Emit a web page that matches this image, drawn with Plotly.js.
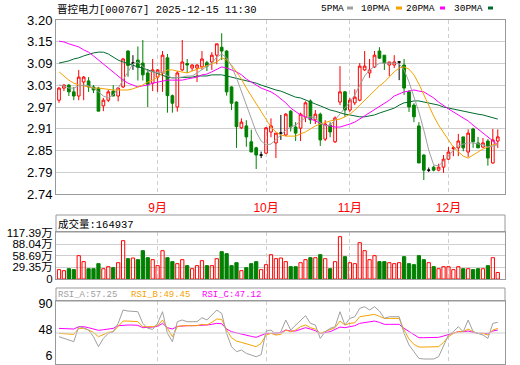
<!DOCTYPE html>
<html><head><meta charset="utf-8">
<script src="https://cdn.plot.ly/plotly-3.0.1.min.js"></script>
<style>html,body{margin:0;padding:0;background:#fff;}#c{width:520px;height:365px;}</style>
</head><body><div id="c"></div>
<script>
// ---------- data ----------
const titleText = '晋控电力[000767] 2025-12-15 11:30';
const monthPos = [20, 42, 59, 79];
const monthLabels = ['9月', '10月', '11月', '12月'];
const priceTickVals = [2.74, 2.7975, 2.855, 2.9125, 2.97, 3.0275, 3.085, 3.1425, 3.20];
const priceTickText = ['2.74', '2.79', '2.85', '2.91', '2.97', '3.03', '3.09', '3.15', '3.20'];
const volTickVals = [0, 29.35, 58.69, 88.04, 117.39];
const volTickText = ['0', '29.35万', '58.69万', '88.04万', '117.39万'];
const rsiTickVals = [6, 48, 90];
const rsiTickText = ['6', '48', '90'];
const maNames = ['5PMA', '10PMA', '20PMA', '30PMA'];
const volLabel = '成交量:164937';
const rsiLabels = ['RSI_A:57.25', 'RSI_B:49.45', 'RSI_C:47.12'];

const open = [2.988,3.020,3.028,3.010,2.999,3.036,3.039,3.023,3.020,2.973,
2.988,3.012,2.999,3.023,3.118,3.086,3.094,3.086,3.060,3.033,
3.049,3.060,3.100,3.000,2.970,3.068,3.085,3.073,3.073,3.076,
3.087,3.089,3.107,3.128,3.118,3.023,2.983,2.915,2.920,2.878,
2.862,2.843,2.848,2.904,2.875,2.901,2.896,2.959,2.917,2.914,
2.943,2.986,2.936,2.951,2.885,2.922,2.878,2.983,3.010,2.962,
2.981,2.988,3.068,3.060,3.076,3.118,3.107,3.081,3.081,3.089,
3.081,3.010,2.975,2.920,2.843,2.803,2.811,2.803,2.811,2.832,
2.860,2.862,2.891,2.851,2.912,2.875,2.864,2.880,2.822,2.880];
const high = [3.023,3.030,3.030,3.023,3.068,3.052,3.049,3.028,3.023,2.994,
3.015,3.028,3.023,3.100,3.120,3.107,3.130,3.147,3.070,3.097,
3.070,3.118,3.110,3.003,3.065,3.147,3.097,3.083,3.083,3.118,
3.092,3.115,3.137,3.165,3.120,3.025,2.985,2.940,2.935,2.910,
2.865,2.852,2.917,2.940,2.901,2.949,2.954,2.962,2.930,2.955,
2.985,2.990,2.962,2.955,2.935,2.930,2.945,3.078,3.012,2.994,
3.017,3.086,3.118,3.097,3.118,3.128,3.107,3.089,3.107,3.091,
3.097,3.015,2.980,2.930,2.845,2.810,2.815,2.820,2.843,2.864,
2.867,2.899,2.891,2.911,2.915,2.891,2.888,2.885,2.912,2.911];
const low = [2.981,3.012,2.999,2.988,2.988,2.988,3.010,3.007,2.959,2.959,
2.983,2.999,2.985,3.020,3.050,3.068,3.040,3.040,2.970,3.012,
3.010,3.010,2.955,2.955,2.958,3.065,3.060,3.065,3.036,3.068,
3.065,3.068,3.083,3.094,3.000,2.962,2.862,2.912,2.865,2.851,
2.806,2.835,2.846,2.890,2.835,2.883,2.893,2.905,2.880,2.880,
2.930,2.925,2.925,2.867,2.880,2.890,2.875,2.975,2.944,2.957,
2.975,2.985,3.065,3.047,3.073,3.097,3.068,3.052,3.073,3.041,
3.002,2.957,2.930,2.822,2.777,2.798,2.800,2.800,2.796,2.830,
2.840,2.840,2.853,2.838,2.862,2.862,2.862,2.815,2.820,2.862];
const close = [3.020,3.028,3.010,2.999,3.049,3.049,3.023,3.015,2.959,2.988,
3.010,2.999,3.020,3.097,3.080,3.086,3.075,3.055,3.030,3.068,
3.068,3.107,3.000,2.980,3.060,3.089,3.081,3.081,3.081,3.097,
3.078,3.107,3.137,3.118,3.010,2.980,2.918,2.930,2.891,2.851,
2.843,2.843,2.915,2.920,2.901,2.901,2.951,2.917,2.901,2.951,
2.981,2.936,2.951,2.883,2.925,2.904,2.941,3.010,2.962,2.988,
2.996,3.078,3.078,3.068,3.107,3.099,3.086,3.089,3.089,3.089,
3.020,2.970,2.944,2.822,2.803,2.803,2.803,2.811,2.832,2.851,
2.862,2.880,2.862,2.901,2.878,2.862,2.875,2.835,2.883,2.891];
const volume = [23.6,21.0,26.0,23.6,58.9,43.8,26.0,26.0,38.7,26.0,
31.1,28.6,41.2,96.8,51.3,53.0,48.8,71.5,53.8,48.8,
33.7,71.5,53.8,43.8,38.7,48.8,33.7,26.0,33.7,46.3,
33.7,33.7,51.3,69.0,64.0,33.7,41.2,21.0,28.6,38.7,
43.8,23.6,36.2,61.4,51.3,53.0,43.8,31.1,31.1,41.2,
48.8,53.8,53.8,61.4,51.3,26.0,43.8,106.9,56.4,41.2,
38.7,91.7,71.5,48.8,58.9,43.8,43.8,41.2,38.7,41.2,
56.4,38.7,36.2,58.9,48.8,41.2,31.1,26.0,31.1,31.1,
23.6,31.1,26.0,26.0,23.6,26.0,26.0,33.7,53.8,16.5];
const ma5 = [3.028,3.026,3.020,3.020,3.026,3.028,3.026,3.020,3.010,2.999,
2.994,3.002,3.020,3.041,3.063,3.084,3.089,3.078,3.065,3.063,
3.060,3.063,3.052,3.047,3.047,3.049,3.052,3.052,3.060,3.068,
3.076,3.086,3.102,3.110,3.100,3.078,3.047,3.010,2.973,2.936,
2.904,2.880,2.870,2.872,2.883,2.896,2.909,2.917,2.922,2.933,
2.941,2.944,2.941,2.928,2.920,2.922,2.936,2.951,2.967,2.983,
3.002,3.026,3.052,3.068,3.078,3.086,3.086,3.086,3.086,3.084,
3.068,3.036,2.999,2.957,2.909,2.856,2.817,2.814,2.827,2.840,
2.856,2.867,2.872,2.875,2.875,2.872,2.870,2.864,2.867,2.870];
const ma10 = [3.063,3.052,3.041,3.033,3.028,3.026,3.023,3.020,3.020,3.018,
3.018,3.015,3.015,3.015,3.015,3.018,3.023,3.028,3.036,3.041,
3.049,3.060,3.068,3.068,3.065,3.063,3.060,3.065,3.070,3.073,
3.078,3.084,3.089,3.100,3.094,3.081,3.063,3.044,3.020,2.999,
2.978,2.957,2.936,2.917,2.904,2.896,2.893,2.893,2.893,2.899,
2.904,2.912,2.920,2.925,2.930,2.933,2.936,2.938,2.944,2.951,
2.962,2.975,2.988,3.002,3.015,3.026,3.036,3.049,3.063,3.073,
3.076,3.070,3.055,3.031,3.002,2.973,2.946,2.922,2.901,2.883,
2.864,2.851,2.840,2.835,2.843,2.851,2.859,2.864,2.870,2.872];
const ma20 = [3.144,3.142,3.137,3.134,3.129,3.121,3.115,3.105,3.094,3.084,
3.073,3.063,3.052,3.041,3.033,3.028,3.023,3.026,3.028,3.033,
3.036,3.039,3.041,3.041,3.041,3.041,3.044,3.047,3.049,3.055,
3.057,3.063,3.070,3.076,3.073,3.068,3.063,3.055,3.044,3.036,
3.028,3.020,3.015,3.010,3.002,2.991,2.981,2.967,2.957,2.949,
2.944,2.938,2.933,2.928,2.922,2.920,2.917,2.917,2.920,2.925,
2.930,2.938,2.946,2.954,2.962,2.970,2.978,2.988,2.999,3.004,
3.010,3.012,3.015,3.012,3.010,3.002,2.994,2.983,2.973,2.965,
2.957,2.949,2.941,2.933,2.922,2.912,2.901,2.891,2.880,2.870];
const ma30 = [3.086,3.089,3.092,3.097,3.100,3.105,3.110,3.113,3.115,3.115,
3.110,3.102,3.094,3.089,3.084,3.081,3.076,3.073,3.068,3.065,
3.060,3.055,3.049,3.047,3.047,3.047,3.049,3.049,3.052,3.052,
3.052,3.055,3.055,3.055,3.052,3.049,3.047,3.044,3.041,3.036,
3.033,3.028,3.023,3.020,3.015,3.012,3.007,3.002,2.996,2.994,
2.988,2.983,2.978,2.973,2.967,2.962,2.959,2.954,2.951,2.949,
2.946,2.944,2.944,2.946,2.949,2.954,2.959,2.962,2.967,2.975,
2.981,2.983,2.986,2.986,2.983,2.981,2.978,2.975,2.970,2.967,
2.965,2.962,2.959,2.957,2.954,2.951,2.949,2.946,2.941,2.938];
const rsiA = [42,39.3,36.6,34,58.2,56.6,52.8,42,25.9,39.3,
47.4,50.1,63.6,85.1,83.5,83.5,82.4,63.6,55.5,53.9,
63.6,82.4,47.4,34,66.3,69,66.3,66.3,66.3,72.7,
69,77,85.1,79.7,47.4,25.9,17.8,20.5,15.1,12.4,
9.7,13,51,52.8,45.8,50.1,69,52.8,60.9,69,
76,63.6,60.9,39.3,50.1,55.5,58.2,82.4,60.9,71.6,
74.3,87.8,90.5,85.1,90.5,83.5,71.6,74.3,74.3,74.3,
47.4,28.6,17.8,7,6,6,6,9.7,28.6,44.7,
50.1,58.2,50.1,69,50.1,47.4,44.7,39.3,63.6,65.2];
const rsiB = [47.4,46.9,46.3,45.8,55.5,55.5,52.8,49,42,45.8,
49,50.1,58.2,67.3,67.3,67.3,66.3,58.2,58.2,58.2,
59.8,69,55.5,42,58.2,59.8,59.8,59.8,59.8,62,
60.9,65.2,70.6,70,52.8,40.4,35,32.9,30.7,28.6,
25.9,31.3,44.7,47.4,44.7,45.8,52.8,50.1,52.8,58.2,
60.9,56.6,54.4,47.4,50.1,52.8,56.6,67.3,60.9,63.6,
64.6,74.3,75.4,76,78.1,74.9,71.6,71.6,71.6,71.6,
52.8,38.3,29.6,25.3,25.3,25.3,25.3,25.9,32.9,42,
47.4,50.1,50.1,54.4,50.1,47.4,47.4,44.7,52.8,55.5];
const rsiC = [55.5,55.5,55,54.4,58.2,58.2,56.6,54.4,52.3,53.3,
54.4,55.5,59.8,60.9,60.9,60.9,60.3,56.6,56.6,57.6,
58.7,63.6,56.6,54.4,58.7,59.8,59.8,59.8,59.8,60.3,
60.9,62,63.6,63,54.4,50.1,48,46.9,44.7,42.6,
41,44.7,47.4,47.4,47.4,48.5,52.8,51.2,51.2,54.4,
56.6,54.4,51.7,47.4,49,50.1,53.9,57.6,56.6,58.2,
59.8,63.6,64.6,65.2,67.3,65.2,62,62,62,62,
55.5,50.1,44.7,40.4,40.4,40.4,40.4,41,43.1,45.8,
48.5,50.1,50.1,51.2,49,47.4,47.4,46.9,51.2,52.8];

// ---------- build ----------
const idx = open.map((_, i) => i);
const isDoji = idx.map(i => open[i] === close[i]);
const pick = (arr, want) => idx.filter(i => isDoji[i] === want).map(i => arr[i]);
const up = idx.map(i => close[i] >= open[i]);

const W = 520, H = 365;
const PL = 56, PR = 505;
const px = v => v / W, py = v => 1 - v / H;
const xr = [-0.61, 90.47];

const C = {ma5: '#a0a0a0', ma10: '#f5a300', ma20: '#ff00ff', ma30: '#006c2e', red: '#ff0000', green: '#008000', frame: '#999999', grid: '#cfcfcf'};
const maColors = [C.ma5, C.ma10, C.ma20, C.ma30];

const traces = [];
[ma30, ma20, ma10, ma5].forEach((arr, k) => {
  traces.push({type: 'scatter', mode: 'lines', x: idx, y: arr, xaxis: 'x', yaxis: 'y',
    line: {color: [C.ma30, C.ma20, C.ma10, C.ma5][k], width: 1}, hoverinfo: 'skip'});
});
traces.push({type: 'candlestick', x: pick(idx, false), open: pick(open, false), high: pick(high, false),
  low: pick(low, false), close: pick(close, false), xaxis: 'x', yaxis: 'y', whiskerwidth: 0,
  increasing: {line: {color: C.red, width: 1}, fillcolor: 'rgba(255,255,255,0)'},
  decreasing: {line: {color: C.green, width: 1}, fillcolor: C.green}, hoverinfo: 'skip'});
traces.push({type: 'candlestick', x: pick(idx, true), open: pick(open, true), high: pick(high, true),
  low: pick(low, true), close: pick(close, true), xaxis: 'x', yaxis: 'y', whiskerwidth: 0,
  increasing: {line: {color: '#000', width: 1}, fillcolor: '#000'},
  decreasing: {line: {color: '#000', width: 1}, fillcolor: '#000'}, hoverinfo: 'skip'});
traces.push({type: 'bar', x: idx, y: volume, xaxis: 'x2', yaxis: 'y2', width: 0.66,
  marker: {color: up.map(u => u ? 'rgba(255,255,255,0)' : C.green),
           line: {color: up.map(u => u ? C.red : C.green), width: 1}}, hoverinfo: 'skip'});
[[rsiC, C.ma20], [rsiB, C.ma10], [rsiA, C.ma5]].forEach(([arr, col]) => {
  traces.push({type: 'scatter', mode: 'lines', x: idx, y: arr, xaxis: 'x3', yaxis: 'y3',
    line: {color: col, width: 1}, hoverinfo: 'skip'});
});

const xBase = {range: xr, domain: [px(PL), px(PR)], showgrid: true, gridcolor: C.grid, griddash: '4px,3px',
  tickvals: monthPos, zeroline: false, showline: true, mirror: true, linecolor: C.frame, linewidth: 1,
  ticks: '', fixedrange: true};
const yFont = {family: 'Liberation Sans, Arial, Noto Sans CJK SC', size: 13, color: '#000'};

const mono = 'Liberation Mono, Noto Sans CJK SC';
const annotations = [
  {xref: 'paper', yref: 'paper', x: px(55), y: py(9), xanchor: 'left', yanchor: 'middle', showarrow: false,
   text: titleText, font: {family: mono, size: 10.5, color: '#000'}},
  {xref: 'paper', yref: 'paper', x: px(56), y: py(224), xanchor: 'left', yanchor: 'middle', showarrow: false,
   text: volLabel, font: {family: mono, size: 10.5, color: '#000'}}
];
const legEnd = [346, 392, 437, 485];
maNames.forEach((n, k) => annotations.push({xref: 'paper', yref: 'paper', x: px(legEnd[k]), y: py(8),
  xanchor: 'right', yanchor: 'middle', showarrow: false, text: n, font: {family: mono, size: 9.5, color: '#000'}}));
const rsiStart = [56, 129, 200];
const rsiCols = [C.ma5, C.ma10, C.ma20];
rsiLabels.forEach((t, k) => annotations.push({xref: 'paper', yref: 'paper', x: px(rsiStart[k]), y: py(295),
  xanchor: 'left', yanchor: 'middle', showarrow: false, text: t, font: {family: mono, size: 9, color: rsiCols[k]}}));

const shapes = [
  {type: 'rect', xref: 'paper', yref: 'paper', x0: px(PL), x1: px(PR), y0: py(232), y1: py(215), line: {color: C.frame, width: 1}},
  {type: 'rect', xref: 'paper', yref: 'paper', x0: px(PL), x1: px(PR), y0: py(301), y1: py(288), line: {color: C.frame, width: 1}},
  {type: 'line', xref: 'paper', yref: 'y3', x0: px(PL), x1: px(PR), y0: 48, y1: 48, line: {color: C.grid, width: 1}}
];
const swX = [[347, 353], [396, 402], [440, 445], [488, 493]];
swX.forEach((s, k) => shapes.push({type: 'rect', xref: 'paper', yref: 'paper', x0: px(s[0]), x1: px(s[1]),
  y0: py(9.5), y1: py(6.5), fillcolor: maColors[k], line: {width: 0}}));

const layout = {
  width: W, height: H, margin: {l: 0, r: 0, t: 0, b: 0}, paper_bgcolor: '#fff', plot_bgcolor: '#fff',
  showlegend: false, hovermode: false, boxgap: 0.22, boxmode: 'overlay', bargap: 0,
  xaxis: Object.assign({}, xBase, {anchor: 'y', ticktext: monthLabels, showticklabels: true, ticklabelstandoff: 3,
    tickfont: {family: 'Liberation Sans, Noto Sans CJK SC', size: 12, color: '#ff0000'}, rangeslider: {visible: false}}),
  yaxis: {anchor: 'x', domain: [py(194), py(20)], range: [2.74, 3.20], tickvals: priceTickVals, ticktext: priceTickText,
    showgrid: true, gridcolor: C.grid, zeroline: false, showline: true, mirror: true, linecolor: C.frame, ticks: '',
    tickfont: yFont, fixedrange: true, ticklabeloverflow: 'allow'},
  xaxis2: Object.assign({}, xBase, {anchor: 'y2', showticklabels: false}),
  yaxis2: {anchor: 'x2', domain: [py(279), py(232)], range: [0, 118.65], tickvals: volTickVals, ticktext: volTickText,
    showgrid: true, gridcolor: C.grid, zeroline: false, showline: true, mirror: true, linecolor: C.frame, ticks: '',
    tickfont: {family: 'Liberation Sans, Arial, Noto Sans CJK SC', size: 11.5, color: '#000'}, fixedrange: true,
    ticklabeloverflow: 'allow'},
  xaxis3: Object.assign({}, xBase, {anchor: 'y3', showticklabels: false}),
  yaxis3: {anchor: 'x3', domain: [py(364), py(301)], range: [-2.07, 99.7], tickvals: rsiTickVals, ticktext: rsiTickText,
    showgrid: false, zeroline: false, showline: true, mirror: true, linecolor: C.frame, ticks: '',
    tickfont: {family: 'Liberation Sans, Arial', size: 12.5, color: '#000'}, fixedrange: true,
    ticklabeloverflow: 'allow', ticklabelshift: -3},
  annotations: annotations, shapes: shapes
};
Plotly.newPlot('c', traces, layout, {staticPlot: true, displayModeBar: false});
</script></body></html>
